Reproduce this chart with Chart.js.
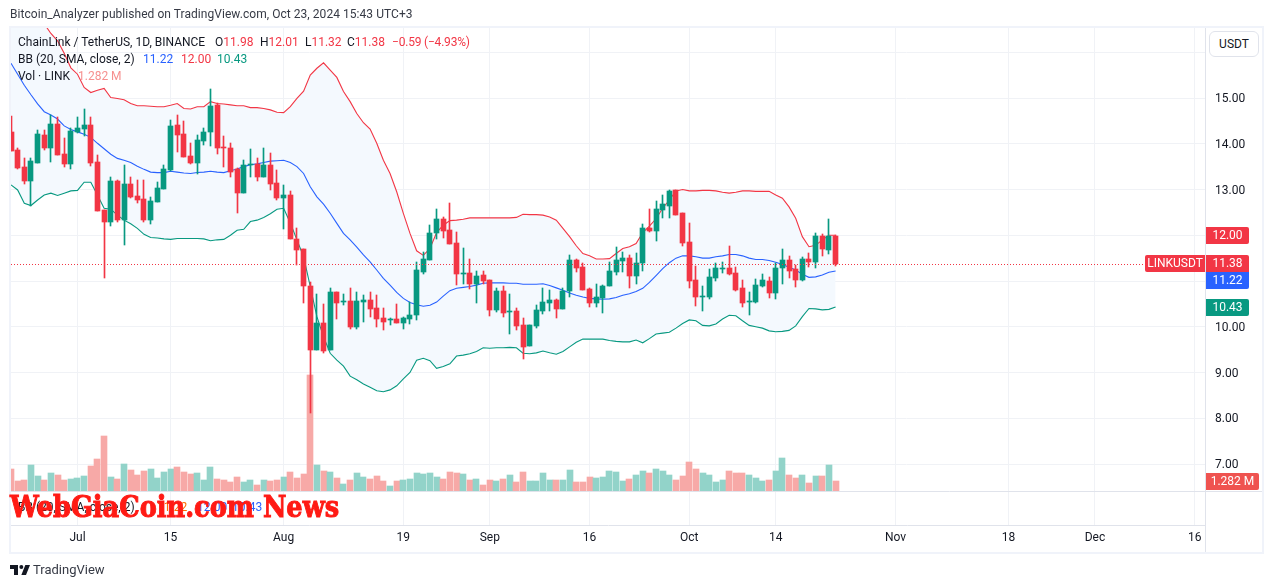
<!DOCTYPE html>
<html>
<head>
<meta charset="utf-8">
<title>LINKUSDT</title>
<script src="https://cdn.jsdelivr.net/npm/chart.js@4/dist/chart.umd.min.js"></script>
<style>
  html, body { margin: 0; padding: 0; background: #fff; }
  body { width: 1273px; height: 588px; position: relative; overflow: hidden; font-family: Roboto, sans-serif; color: #131722; }
  canvas { position: absolute; left: 0; top: 0; }
  .frame { position: absolute; left: 9px; top: 26px; width: 1251px; height: 524px; border: 2px solid #f0f3fa; pointer-events: none; }
  .txt { position: absolute; white-space: pre; font-size: 12px; line-height: 16px; }
  .red { color: #f23645; }
  .blue { color: #2962ff; }
  .green { color: #089981; }
  #usdt { position: absolute; left: 1209px; top: 31px; width: 48px; height: 24px; line-height: 24px; text-align: center; font-size: 12px; background: #fff; border: 1px solid #e0e3eb; border-radius: 6px; }
  #mark { position: absolute; left: 10px; top: 489px; font: 900 30px/36px "DejaVu Serif", serif; color: #ff1a14; white-space: pre; -webkit-text-stroke: 1px #ff1a14; transform: scaleX(0.855); transform-origin: left center; }
</style>
</head>
<body>
<canvas id="chart" width="1273" height="588"></canvas>
<div class="frame"></div>
<div class="txt" style="left:10px;top:6px;letter-spacing:0.05px;color:#363a45">Bitcoin_Analyzer published on TradingView.com, Oct 23, 2024 15:43 UTC+3</div>
<div class="txt" style="left:18px;top:34px">ChainLink / TetherUS, 1D, BINANCE</div>
<div class="txt" style="left:215px;top:34px">O<span class="red">11.98</span></div>
<div class="txt" style="left:260px;top:34px">H<span class="red">12.01</span></div>
<div class="txt" style="left:305px;top:34px">L<span class="red">11.32</span></div>
<div class="txt" style="left:347px;top:34px">C<span class="red">11.38</span></div>
<div class="txt red" style="left:392px;top:34px;letter-spacing:-0.2px">−0.59 (−4.93%)</div>
<div class="txt" style="left:18px;top:51px">BB (20, SMA, close, 2)</div>
<div class="txt blue" style="left:143px;top:51px">11.22</div>
<div class="txt red" style="left:181px;top:51px">12.00</div>
<div class="txt green" style="left:217px;top:51px">10.43</div>
<div class="txt" style="left:18px;top:68px">Vol · LINK</div>
<div class="txt" style="left:78px;top:68px;color:#f6908f">1.282 M</div>
<div class="txt" style="left:18px;top:499px">BB (20, SMA, close, 2)</div>
<div class="txt" style="left:157px;top:499px;color:#ff6d00">11.22</div>
<div class="txt blue" style="left:197px;top:499px">12.00</div>
<div class="txt blue" style="left:232px;top:499px">10.43</div>
<div id="mark">WebGiaCoin.com News</div>
<div id="usdt">USDT</div>
<svg style="position:absolute;left:10px;top:565px" width="20" height="10" viewBox="2 6 30 15"><path fill="#131722" d="M14 6H2v6h6v9h6V6Zm12 15h-7l6-15h7l-6 15Zm-7-9a3 3 0 1 0 0-6 3 3 0 0 0 0 6Z"/></svg>
<div class="txt" style="left:33px;top:562px;font-size:13px;color:#363a45">TradingView</div>
<script>
// day 0 is Jun 21, one candle per day up to Oct 23
const opens = [14.26,13.86,13.49,13.19,13.59,14.19,13.91,14.43,13.78,13.55,
  14.26,14.32,14.41,13.60,12.55,12.30,13.19,12.33,13.12,12.86,
  12.79,12.33,12.73,13.01,13.43,14.41,14.21,13.73,13.58,14.06,
  14.25,14.85,13.93,13.91,13.45,12.92,13.54,13.56,13.27,13.54,
  13.14,12.81,12.88,11.92,11.70,10.89,9.49,10.08,9.49,10.76,
  10.54,10.56,9.99,10.54,10.58,10.41,10.19,10.14,10.17,10.08,
  10.17,10.25,11.20,11.46,12.05,12.36,12.11,11.83,11.15,11.17,
  10.93,11.13,11.02,10.37,10.78,10.32,10.34,10.04,9.58,10.02,
  10.34,10.52,10.58,10.39,10.78,11.46,11.30,10.83,10.52,10.63,
  10.89,11.20,11.44,11.50,11.11,11.39,12.16,12.09,12.55,12.64,
  12.99,12.49,11.85,11.02,10.65,10.65,11.06,11.26,11.28,11.17,
  10.85,10.54,10.54,10.89,11.00,10.74,11.28,11.46,11.26,11.02,
  11.48,11.41,11.98,11.68,11.98];
const highs = [14.61,13.91,13.68,13.68,14.29,14.29,14.63,14.59,14.12,14.34,
  14.59,14.76,14.59,13.75,12.55,13.28,13.21,13.54,13.28,13.21,
  13.21,12.84,13.16,13.54,14.52,14.63,14.50,14.01,14.19,14.34,
  15.20,14.90,14.17,14.01,13.46,13.64,13.88,13.68,13.90,13.79,
  13.43,13.10,12.97,12.15,11.70,10.97,10.72,10.50,10.84,10.76,
  10.72,10.84,10.76,10.69,10.76,10.69,10.41,10.19,10.50,10.22,
  10.54,11.41,11.64,12.22,12.57,12.40,12.70,12.07,11.72,11.48,
  11.22,11.22,11.02,10.85,10.89,10.71,10.41,10.19,10.04,10.47,
  10.85,10.80,10.61,10.84,11.57,11.48,11.39,10.85,10.93,10.91,
  11.41,11.74,11.63,11.57,11.61,12.25,12.57,12.75,12.88,12.99,
  12.99,12.49,12.27,11.33,10.89,11.26,11.39,11.41,11.76,11.30,
  11.03,10.76,11.04,11.15,11.09,11.39,11.70,11.55,11.35,11.52,
  11.61,12.05,12.03,12.35,12.01];
const lows = [13.85,13.45,13.13,12.65,13.57,13.86,13.61,13.75,13.50,13.45,
  14.23,14.17,13.52,12.53,11.07,12.20,12.30,11.79,12.81,12.70,
  12.30,12.25,12.73,13.01,13.40,13.83,13.72,13.56,13.34,13.97,
  13.96,13.78,13.50,13.27,12.49,12.92,13.27,13.19,13.27,12.99,
  12.77,12.14,11.92,11.35,10.51,8.11,9.49,9.42,9.49,10.17,
  10.48,9.95,9.95,10.10,10.21,9.99,9.93,10.04,10.08,9.95,
  10.06,10.15,11.15,11.46,11.92,11.94,11.81,10.91,10.93,10.82,
  10.52,10.93,10.23,10.32,10.21,9.84,9.93,9.30,9.58,9.97,
  10.28,10.34,10.19,10.39,10.65,11.20,10.80,10.43,10.43,10.30,
  10.89,11.13,11.20,10.85,10.93,11.22,12.07,11.87,12.38,12.38,
  12.44,11.76,10.85,10.45,10.34,10.61,11.00,11.17,11.13,10.78,
  10.43,10.26,10.52,10.87,10.63,10.61,10.93,11.07,10.87,11.00,
  11.31,11.28,11.55,11.59,11.32];
const closes = [13.85,13.48,13.19,13.62,14.21,13.90,14.43,13.75,13.55,14.28,
  14.34,14.41,13.57,12.53,12.30,13.19,12.33,13.12,12.84,12.77,
  12.33,12.75,13.03,13.45,14.39,14.19,13.72,13.58,14.08,14.26,
  14.83,13.91,13.91,13.38,12.92,13.54,13.55,13.27,13.54,13.12,
  12.81,12.88,11.92,11.68,10.88,9.49,10.08,9.47,10.76,10.52,
  10.56,9.99,10.56,10.58,10.39,10.17,10.10,10.17,10.08,10.19,
  10.25,11.24,11.48,12.05,12.36,12.09,11.81,11.15,11.17,10.93,
  11.11,11.00,10.37,10.78,10.30,10.34,10.02,9.56,10.04,10.37,
  10.54,10.58,10.39,10.78,11.46,11.28,10.80,10.52,10.65,10.89,
  11.22,11.46,11.50,11.11,11.39,12.16,12.09,12.57,12.68,12.97,
  12.44,11.83,11.00,10.65,10.67,11.09,11.28,11.28,11.15,10.80,
  10.52,10.56,10.91,11.02,10.74,11.28,11.46,11.22,11.02,11.48,
  11.41,11.98,11.70,11.98,11.38];
// volume in millions
const volumes = [2.82,1.28,1.41,3.33,1.92,1.41,2.31,2.05,1.41,1.54,
  1.67,1.92,3.21,4.10,7.05,1.79,1.54,3.46,2.69,2.05,
  2.56,2.82,1.67,2.44,2.82,3.08,2.44,2.18,2.31,1.41,
  3.08,1.54,1.41,1.15,1.79,1.15,1.41,0.77,1.41,1.28,
  1.41,1.79,2.44,1.67,2.18,14.87,3.33,2.56,2.44,1.67,
  0.90,1.41,2.31,1.79,1.54,1.92,1.28,0.64,1.28,1.41,
  1.54,2.31,2.18,2.31,1.79,1.54,2.44,2.31,2.18,1.41,
  1.54,0.77,1.41,1.28,1.54,2.05,1.15,2.44,1.28,1.28,
  2.31,1.41,1.41,1.41,2.69,1.15,1.15,1.79,1.67,1.79,
  2.56,2.44,1.28,1.54,2.05,2.56,2.31,2.82,2.56,2.05,
  1.41,1.92,3.72,2.82,2.31,2.05,1.15,1.41,2.56,2.31,
  2.31,2.05,1.67,1.28,1.41,2.56,4.23,2.05,1.67,2.05,
  1.03,1.92,1.92,3.33,1.282];
const bbUpper = [17.69,17.47,17.25,17.03,16.81,16.62,16.41,16.25,15.98,15.66,
  15.52,15.23,15.12,15.17,15.21,15.01,14.99,14.96,14.88,14.83,
  14.83,14.82,14.81,14.81,14.84,14.88,14.77,14.76,14.81,14.81,
  14.92,14.88,14.87,14.85,14.83,14.83,14.79,14.79,14.77,14.74,
  14.69,14.68,14.81,14.99,15.15,15.50,15.65,15.77,15.61,15.45,
  15.14,14.92,14.66,14.46,14.32,14.01,13.64,13.35,12.95,12.48,
  12.04,11.66,11.56,11.71,12.06,12.22,12.32,12.33,12.35,12.38,
  12.38,12.38,12.38,12.38,12.38,12.38,12.39,12.46,12.45,12.45,
  12.44,12.40,12.33,12.15,11.97,11.77,11.60,11.55,11.48,11.48,
  11.49,11.60,11.71,11.75,11.82,12.06,12.20,12.36,12.59,12.77,
  12.97,13.00,12.97,12.97,12.98,12.98,12.97,12.94,12.92,12.94,
  12.97,12.97,12.96,12.96,12.96,12.88,12.81,12.62,12.37,11.97,
  11.75,11.78,11.90,12.00,12.00];
const bbBasis = [15.76,15.52,15.28,15.07,14.87,14.70,14.63,14.54,14.39,14.31,
  14.26,14.21,14.14,14.01,13.89,13.77,13.68,13.64,13.59,13.51,
  13.44,13.38,13.37,13.37,13.40,13.38,13.36,13.35,13.37,13.38,
  13.40,13.38,13.37,13.41,13.45,13.50,13.54,13.56,13.59,13.62,
  13.63,13.64,13.59,13.50,13.35,13.06,12.84,12.68,12.48,12.26,
  12.04,11.90,11.74,11.57,11.42,11.24,11.06,10.91,10.75,10.62,
  10.53,10.48,10.45,10.47,10.54,10.67,10.79,10.84,10.86,10.88,
  10.91,10.95,10.96,10.96,10.96,10.95,10.95,10.93,10.93,10.93,
  10.94,10.90,10.85,10.80,10.74,10.69,10.65,10.62,10.61,10.60,
  10.61,10.64,10.69,10.72,10.77,10.84,10.97,11.12,11.27,11.40,
  11.50,11.55,11.55,11.53,11.50,11.50,11.53,11.55,11.58,11.58,
  11.55,11.50,11.47,11.47,11.45,11.41,11.36,11.30,11.24,11.15,
  11.08,11.09,11.13,11.19,11.22];
const bbLower = [13.10,12.99,12.70,12.65,12.77,12.88,12.92,12.87,12.92,12.97,
  12.98,13.16,13.16,12.88,12.59,12.57,12.44,12.33,12.25,12.15,
  12.02,11.95,11.94,11.92,11.91,11.93,11.93,11.93,11.93,11.92,
  11.88,11.90,11.91,12.00,12.11,12.13,12.30,12.33,12.39,12.47,
  12.57,12.59,12.27,11.90,11.53,10.88,10.22,9.78,9.42,9.27,
  9.14,8.92,8.84,8.75,8.68,8.60,8.58,8.62,8.71,8.86,
  9.00,9.27,9.31,9.26,9.09,9.13,9.19,9.36,9.38,9.41,
  9.46,9.54,9.53,9.54,9.54,9.55,9.54,9.42,9.41,9.43,
  9.47,9.43,9.40,9.46,9.56,9.66,9.73,9.73,9.73,9.73,
  9.70,9.68,9.67,9.67,9.71,9.65,9.74,9.84,9.86,9.88,
  9.97,10.07,10.15,10.13,10.03,10.02,10.06,10.17,10.25,10.24,
  10.13,10.03,10.00,9.97,9.91,9.89,9.90,9.92,10.02,10.22,
  10.40,10.39,10.37,10.38,10.43];
const priceTicks = [7, 8, 9, 10, 11, 12, 13, 14, 15, 16];
const dayTicks = [10, 24, 41, 59, 72, 87, 102, 115, 133, 150, 163, 178];
const dayLabels = ['Jul', '15', 'Aug', '19', 'Sep', '16', 'Oct', '14', 'Nov', '18', 'Dec', '16'];

const upColor = '#089981';
const downColor = '#f23645';
const lineGrey = '#e0e3eb';
const gridGrey = '#f0f2f6';
const last = closes.length - 1;
const days = closes.map((c, i) => i);
const isUp = days.map(i => closes[i] >= opens[i]);
const candleColors = isUp.map(up => up ? upColor : downColor);
const volColors = isUp.map(up => up ? '#92d3c9' : '#f7a9a7');

function lineData(values) {
    return values.map((v, i) => ({ x: i, y: v }));
}

// bars land on fractional x, snap them so wicks stay one pixel wide
const snapBars = {
    id: 'snapBars',
    beforeDatasetsDraw(chart) {
        chart.data.datasets.forEach((ds, n) => {
            if (ds.type !== 'bar') return;
            chart.getDatasetMeta(n).data.forEach(bar => {
                bar.x = ds.barThickness % 2 ? Math.floor(bar.x) + 0.5 : Math.round(bar.x);
                bar.y = Math.round(bar.y);
                bar.base = Math.round(bar.base);
                if (bar.y === bar.base) bar.base = bar.y + 1;
            });
        });
    }
};

const extras = {
    id: 'extras',
    afterDraw(chart) {
        const ctx = chart.ctx;
        const y = chart.scales.y;
        const area = chart.chartArea;
        const paneY = Math.round(chart.scales.vol.getPixelForValue(0)) + 0.5;
        const lastY = Math.round(y.getPixelForValue(closes[last])) + 0.5;

        ctx.save();
        ctx.strokeStyle = lineGrey;
        ctx.beginPath();
        ctx.moveTo(area.left, paneY);
        ctx.lineTo(1262, paneY);
        ctx.moveTo(area.right + 0.5, area.bottom);
        ctx.lineTo(area.right + 0.5, 552);
        ctx.stroke();

        ctx.strokeStyle = downColor;
        ctx.setLineDash([1, 2]);
        ctx.beginPath();
        ctx.moveTo(area.left, lastY);
        ctx.lineTo(1146, lastY);
        ctx.stroke();
        ctx.setLineDash([]);

        ctx.font = '12px Roboto';
        ctx.textBaseline = 'middle';
        ctx.textAlign = 'center';
        const tag = (left, width, top, color, text, radius) => {
            ctx.fillStyle = color;
            ctx.beginPath();
            ctx.roundRect(left, top, width, 17, radius);
            ctx.fill();
            ctx.fillStyle = '#fff';
            ctx.fillText(text, left + width / 2, top + 9);
        };
        const topFor = v => Math.round(y.getPixelForValue(v) - 8.5);
        const closeTop = topFor(closes[last]);
        tag(1206, 43, topFor(bbUpper[last]), downColor, bbUpper[last].toFixed(2), [0, 2, 2, 0]);
        tag(1206, 43, topFor(bbLower[last]), upColor, bbLower[last].toFixed(2), [0, 2, 2, 0]);
        tag(1206, 43, closeTop, downColor, closes[last].toFixed(2), [0, 2, 0, 0]);
        // the basis label would collide with the close label, it gets pushed under it
        tag(1206, 43, Math.max(topFor(bbBasis[last]), closeTop + 17), '#2962ff', bbBasis[last].toFixed(2), [0, 0, 2, 0]);
        tag(1145, 60, closeTop, downColor, 'LINKUSDT', [2, 0, 0, 2]);
        tag(1206, 53, Math.round(chart.scales.vol.getPixelForValue(0)) - 18, '#ef5350', volumes[last].toFixed(3) + ' M', [0, 2, 2, 0]);
        ctx.restore();
    }
};

new Chart(document.getElementById('chart').getContext('2d'), {
    data: {
        datasets: [
            { type: 'bar', label: 'wick', order: 1, barThickness: 1, grouped: false, backgroundColor: candleColors,
              data: days.map(i => ({ x: i, y: [lows[i], highs[i]] })) },
            { type: 'bar', label: 'body', order: 1, barThickness: 5, grouped: false, backgroundColor: candleColors,
              data: days.map(i => ({ x: i, y: [opens[i], closes[i]] })) },
            // upper goes first, its fill must not cover the other two lines
            { type: 'line', label: 'upper', order: 3, data: lineData(bbUpper), borderColor: downColor, borderWidth: 1.1, pointRadius: 0,
              fill: { target: 3, above: '#f4f9fe', below: '#f4f9fe' } },
            { type: 'line', label: 'lower', order: 2, data: lineData(bbLower), borderColor: upColor, borderWidth: 1.1, pointRadius: 0, fill: false },
            { type: 'line', label: 'basis', order: 2, data: lineData(bbBasis), borderColor: '#2962ff', borderWidth: 1.1, pointRadius: 0, fill: false },
            { type: 'bar', label: 'volume', order: 4, yAxisID: 'vol', barThickness: 6, grouped: false, backgroundColor: volColors,
              data: days.map(i => ({ x: i, y: volumes[i] })) }
        ]
    },
    options: {
        responsive: false,
        animation: false,
        events: [],
        layout: { padding: { left: 11, right: 11, top: 28, bottom: 36 } },
        plugins: { legend: { display: false }, tooltip: { enabled: false } },
        scales: {
            x: {
                type: 'linear',
                offset: false,
                min: 0,
                max: 179.55,
                grid: { color: gridGrey, drawTicks: false, offset: false },
                border: { color: lineGrey },
                afterBuildTicks: scale => { scale.ticks = dayTicks.map(v => ({ value: v })); },
                afterFit: scale => { scale.height = 27; },
                ticks: {
                    autoSkip: false,
                    maxRotation: 0,
                    padding: 6,
                    color: '#131722',
                    font: { family: 'Roboto', size: 12 },
                    callback: v => dayLabels[dayTicks.indexOf(v)]
                }
            },
            y: {
                position: 'right',
                min: 5.667,
                max: 16.53,
                grid: { color: gridGrey, drawTicks: false },
                border: { color: lineGrey },
                afterBuildTicks: scale => { scale.ticks = priceTicks.map(v => ({ value: v })); },
                afterFit: scale => { scale.width = 57; },
                ticks: {
                    padding: 10,
                    labelOffset: 1,
                    color: '#131722',
                    font: { family: 'Roboto', size: 12 },
                    callback: v => v.toFixed(2)
                }
            },
            vol: {
                display: false,
                min: -4.36,
                max: 59.36
            }
        }
    },
    plugins: [snapBars, extras]
});
</script>
</body>
</html>
